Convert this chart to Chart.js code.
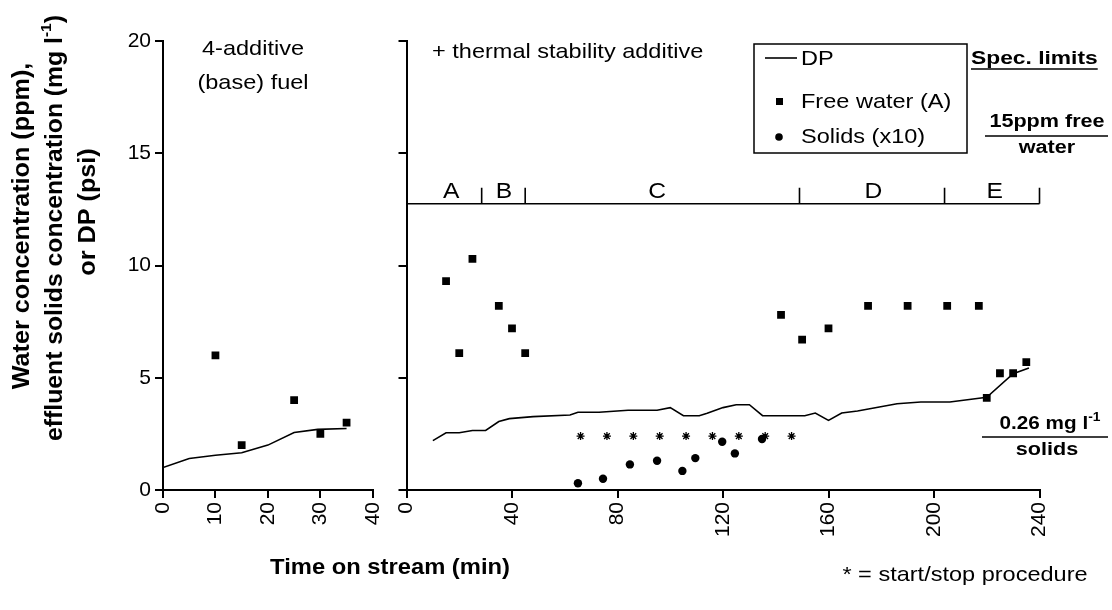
<!DOCTYPE html>
<html>
<head>
<meta charset="utf-8">
<script src="https://cdn.jsdelivr.net/npm/chart.js@4/dist/chart.umd.min.js"></script>
<style>
  body { margin: 0; background: #fff; }
  #wrap { position: relative; width: 1112px; height: 610px; }
  canvas { position: absolute; left: 0; top: 0; }
  #left { z-index: 2; }
</style>
</head>
<body>
<div id="wrap">
  <canvas id="right" width="1112" height="610"></canvas>
  <canvas id="left" width="402" height="610"></canvas>
</div>
<script>
// base fuel panel (0-40 min)
const baseDpTime = [0, 5, 10, 15, 20, 25, 29.5, 35]
const baseDp = [1.0, 1.4, 1.55, 1.66, 2.0, 2.56, 2.7, 2.74]
const baseWaterTime = [10, 15, 25, 30, 35]
const baseWater = [6.0, 2.0, 4.0, 2.5, 3.0]

// + thermal stability additive panel (0-240 min)
const addDpTime = [10, 15, 20, 25, 30, 35, 39, 48, 62, 65, 73, 84, 95, 100, 105, 111, 114, 120, 125, 130, 135, 151, 155, 160, 165, 171, 186, 195, 206, 220, 230, 236]
const addDp = [2.2, 2.55, 2.55, 2.65, 2.65, 3.05, 3.18, 3.27, 3.34, 3.46, 3.46, 3.55, 3.55, 3.67, 3.31, 3.31, 3.42, 3.67, 3.8, 3.8, 3.31, 3.31, 3.43, 3.1, 3.43, 3.52, 3.84, 3.92, 3.92, 4.13, 5.18, 5.43]
const addWaterTime = [15, 20, 25, 35, 40, 45, 142, 150, 160, 175, 190, 205, 217, 220, 225, 230, 235]
const addWater = [9.3, 6.1, 10.3, 8.2, 7.2, 6.1, 7.8, 6.7, 7.2, 8.2, 8.2, 8.2, 8.2, 4.1, 5.2, 5.2, 5.7]
const solidsTime = [65, 74.5, 84.7, 95, 104.6, 109.5, 119.7, 124.5, 134.8]
const solids = [0.3, 0.5, 1.14, 1.3, 0.85, 1.42, 2.15, 1.63, 2.27]
const startStopTime = [66, 76, 86, 96, 106, 116, 126, 136, 146]
const startStopLevel = 2.4

// test phases A-E
const phaseEdges = [0, 28.5, 45, 149, 204, 240]
const phaseNames = ["A", "B", "C", "D", "E"]
const phaseMid = [17, 37, 95, 177, 223]
const phaseLevel = 12.75

const yTicks = [0, 5, 10, 15, 20]

const FONT = "'Liberation Sans', Arial, sans-serif"
const pts = (xs, ys) => xs.map((x, i) => ({ x: x, y: Array.isArray(ys) ? ys[i] : ys }))

function rich(ctx, parts, x, y, opts) {
  opts = opts || {}
  const sx = opts.sx || 1.12
  ctx.save()
  ctx.translate(x, y)
  if (opts.rot) ctx.rotate(opts.rot)
  ctx.scale(sx, 1)
  ctx.fillStyle = "#000"
  ctx.textBaseline = "middle"
  ctx.textAlign = "left"
  let w = 0
  parts.forEach(p => { ctx.font = p.font; w += ctx.measureText(p.t).width })
  let cx = opts.align === "left" ? 0 : -w / 2
  parts.forEach(p => {
    ctx.font = p.font
    ctx.fillText(p.t, cx, p.dy || 0)
    cx += ctx.measureText(p.t).width
  })
  ctx.restore()
  return w * sx
}

function yScale(showLabels, width) {
  return {
    min: 0,
    max: 20,
    afterBuildTicks: s => { s.ticks = yTicks.map(v => ({ value: v })) },
    ticks: {
      color: "#000",
      font: { size: 21, family: FONT },
      padding: 4,
      callback: v => showLabels ? v : ""
    },
    grid: { drawOnChartArea: false, drawTicks: true, tickLength: 8, color: "#000", lineWidth: 2 },
    border: { color: "#000", width: 2 },
    afterFit: s => { s.width = width }
  }
}

function xScale(max, step) {
  return {
    type: "linear",
    min: 0,
    max: max,
    ticks: {
      stepSize: step,
      color: "#000",
      font: { size: 21, family: FONT },
      maxRotation: 90,
      minRotation: 90,
      padding: 4
    },
    grid: { drawOnChartArea: false, drawTicks: true, tickLength: 8, color: "#000", lineWidth: 2 },
    border: { color: "#000", width: 2 },
    afterFit: s => { s.height = 120 }
  }
}

const dpStyle = { type: "line", borderColor: "#000", borderWidth: 1.6, pointRadius: 0, tension: 0, fill: false }
const waterStyle = { type: "scatter", pointStyle: "rect", pointRadius: 5.5, backgroundColor: "#000", borderWidth: 0 }

const commonOpts = {
  responsive: false,
  animation: false,
  devicePixelRatio: 1,
  plugins: { legend: { display: false }, tooltip: { enabled: false } },
  events: []
}

const leftText = {
  id: "leftText",
  afterDraw(chart) {
    const ctx = chart.ctx
    const f = "21px " + FONT
    rich(ctx, [{ t: "4-additive", font: f }], 253, 49)
    rich(ctx, [{ t: "(base) fuel", font: f }], 253, 83)

    const b = "bold 24px " + FONT
    const sup = "bold 15px " + FONT
    const rot = -Math.PI / 2
    rich(ctx, [{ t: "Water concentration (ppm),", font: b }], 22, 226, { rot: rot, sx: 1.05 })
    rich(ctx, [
      { t: "effluent solids concentration (mg l", font: b },
      { t: "-1", font: sup, dy: -8 },
      { t: ")", font: b }
    ], 55, 228, { rot: rot, sx: 1.03 })
    rich(ctx, [{ t: "or DP (psi)", font: b }], 88, 212, { rot: rot, sx: 1.05 })
  }
}

const rightText = {
  id: "rightText",
  afterDraw(chart) {
    const ctx = chart.ctx
    const xs = chart.scales.x
    const ys = chart.scales.y
    const f = "21px " + FONT
    const b = "bold 18px " + FONT

    // phase bar
    const py = ys.getPixelForValue(phaseLevel)
    ctx.save()
    ctx.strokeStyle = "#000"
    ctx.lineWidth = 1.6
    ctx.beginPath()
    ctx.moveTo(xs.getPixelForValue(phaseEdges[0]), py)
    ctx.lineTo(xs.getPixelForValue(phaseEdges[phaseEdges.length - 1]), py)
    phaseEdges.slice(1).forEach(e => {
      const px = xs.getPixelForValue(e)
      ctx.moveTo(px, py)
      ctx.lineTo(px, py - 16)
    })
    ctx.stroke()
    ctx.restore()
    phaseNames.forEach((n, i) => {
      rich(ctx, [{ t: n, font: "22px " + FONT }], xs.getPixelForValue(phaseMid[i]), py - 12)
    })

    rich(ctx, [{ t: "+ thermal stability additive", font: f }], 432, 52, { align: "left" })

    // legend box
    ctx.save()
    ctx.strokeStyle = "#000"
    ctx.lineWidth = 1.5
    ctx.strokeRect(754, 44, 213, 109)
    ctx.beginPath()
    ctx.moveTo(765, 58)
    ctx.lineTo(797, 58)
    ctx.lineWidth = 1.6
    ctx.stroke()
    ctx.fillStyle = "#000"
    ctx.fillRect(776, 98, 7, 7)
    ctx.beginPath()
    ctx.arc(779, 137, 3.8, 0, Math.PI * 2)
    ctx.fill()
    ctx.restore()
    rich(ctx, [{ t: "DP", font: f }], 801, 59, { align: "left" })
    rich(ctx, [{ t: "Free water (A)", font: f }], 801, 102, { align: "left" })
    rich(ctx, [{ t: "Solids (x10)", font: f }], 801, 137, { align: "left" })

    // spec limits
    const w = rich(ctx, [{ t: "Spec. limits", font: "bold 19px " + FONT }], 971, 59, { align: "left", sx: 1.2 })
    ctx.save()
    ctx.strokeStyle = "#000"
    ctx.lineWidth = 1.5
    ctx.beginPath()
    ctx.moveTo(971, 69); ctx.lineTo(971 + w, 69)
    ctx.moveTo(985, 136); ctx.lineTo(1108, 136)
    ctx.moveTo(982, 437); ctx.lineTo(1108, 437)
    ctx.stroke()
    ctx.restore()
    rich(ctx, [{ t: "15ppm free", font: b }], 1047, 122, { sx: 1.2 })
    rich(ctx, [{ t: "water", font: b }], 1047, 148, { sx: 1.2 })
    rich(ctx, [
      { t: "0.26 mg l", font: b },
      { t: "-1", font: "bold 12px " + FONT, dy: -6 }
    ], 1050, 424, { sx: 1.15 })
    rich(ctx, [{ t: "solids", font: b }], 1047, 450, { sx: 1.2 })

    // axis title and footnote
    rich(ctx, [{ t: "Time on stream (min)", font: "bold 22px " + FONT }], 390, 568, { sx: 1.08 })
    rich(ctx, [{ t: "* = start/stop procedure", font: "21px " + FONT }], 965, 575)
  }
}

new Chart(document.getElementById("left"), {
  data: {
    datasets: [
      Object.assign({ label: "DP", data: pts(baseDpTime, baseDp) }, dpStyle),
      Object.assign({ label: "Free water (A)", data: pts(baseWaterTime, baseWater) }, waterStyle)
    ]
  },
  options: Object.assign({}, commonOpts, {
    layout: { padding: { top: 41, right: 23, left: 0, bottom: 0 } },
    scales: { x: xScale(40, 10), y: yScale(true, 163) }
  }),
  plugins: [leftText]
})

new Chart(document.getElementById("right"), {
  data: {
    datasets: [
      Object.assign({ label: "DP", data: pts(addDpTime, addDp) }, dpStyle),
      Object.assign({ label: "Free water (A)", data: pts(addWaterTime, addWater) }, waterStyle),
      { type: "scatter", label: "Solids (x10)", data: pts(solidsTime, solids), pointStyle: "circle", pointRadius: 4.2, backgroundColor: "#000", borderWidth: 0 },
      { type: "scatter", label: "start/stop", data: pts(startStopTime, startStopLevel), pointStyle: "star", pointRadius: 4, borderColor: "#000", borderWidth: 1.3, backgroundColor: "#000" }
    ]
  },
  options: Object.assign({}, commonOpts, {
    layout: { padding: { top: 41, right: 72.5, left: 0, bottom: 0 } },
    scales: { x: xScale(240, 40), y: yScale(false, 406.5) }
  }),
  plugins: [rightText]
})
</script>
</body>
</html>
